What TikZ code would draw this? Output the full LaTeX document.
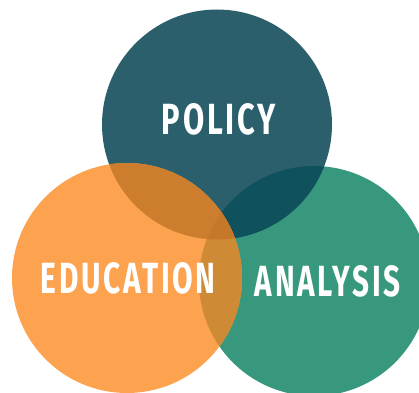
\documentclass[tikz,border=0pt]{standalone}
\usepackage{fontspec}
\usepackage{graphicx}
\usepackage{xcolor}
\usepackage{tikz}
\newfontfamily\venfont[LetterSpace=9]{Fira Sans}

\definecolor{polcol}{HTML}{2C5F6C}
\definecolor{educol}{HTML}{FDA24F}
\definecolor{anacol}{HTML}{38987D}
\definecolor{edpolcol}{HTML}{CC7D2E}
\definecolor{polanacol}{HTML}{0F525D}
\definecolor{edanacol}{HTML}{CF8A36}
\definecolor{allcol}{HTML}{C5782A}

\newcommand{\venlabel}[2]{\resizebox{#1pt}{31pt}{\venfont\bfseries #2\hspace{-0.09em}}}

\begin{document}
\begin{tikzpicture}[x=1pt, y=1pt,
                    word/.style={text=white, inner sep=0pt},
                   ]

\clip (0,0) rectangle (419,392);

\coordinate (p) at (217,267.5);
\coordinate (e) at (127,114);
\coordinate (a) at (314,111);
\def\rad{115}

% plain discs
\fill[anacol] (a) circle (\rad);
\fill[polcol] (p) circle (\rad);
\begin{scope}
  \clip (p) circle (\rad);
  \fill[polanacol] (a) circle (\rad);
\end{scope}
\fill[educol] (e) circle (\rad);

% overlaps with the orange disc
\begin{scope}
  \clip (e) circle (\rad);
  \fill[edpolcol] (p) circle (\rad);
  \fill[edanacol] (a) circle (\rad);
  \clip (p) circle (\rad);
  \fill[allcol] (a) circle (\rad);
\end{scope}

\node[word] (policy) at (217.5,273) {\venlabel{111}{POLICY}};
\node[word] (education) at (127,113.5) {\venlabel{172}{EDUCATION}};
\node[word] (analysis) at (326.5,110.5) {\venlabel{143}{ANALYSIS}};

\end{tikzpicture}
\end{document}
